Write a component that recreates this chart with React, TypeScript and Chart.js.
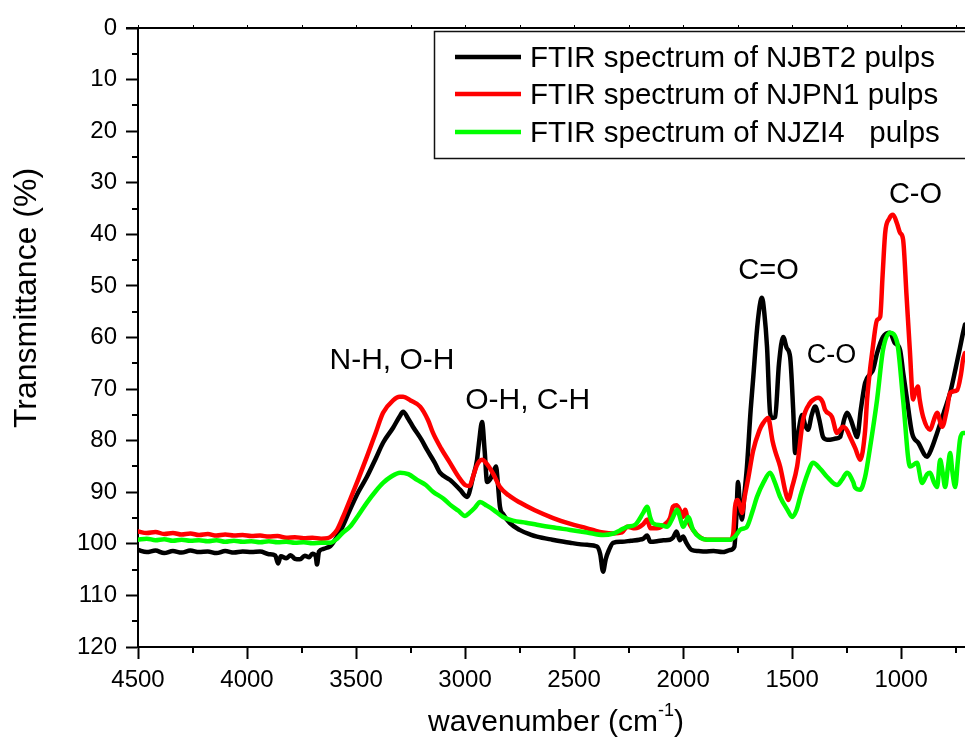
import React, { useEffect, useRef } from "react";
import { Chart, registerables } from "chart.js";

Chart.register(...registerables);

const FONT = '"Liberation Sans", Arial, Helvetica, sans-serif';

// Axis ticks
const xMajorTicks = [4500, 4000, 3500, 3000, 2500, 2000, 1500, 1000];
const xMinorTicks = [4250, 3750, 3250, 2750, 2250, 1750, 1250, 750];
const yMajorTicks = [0, 10, 20, 30, 40, 50, 60, 70, 80, 90, 100, 110, 120];
const yMinorTicks = [5, 15, 25, 35, 45, 55, 65, 75, 85, 95, 105, 115];

// Series names and colours
const seriesLabels = [
  "FTIR spectrum of NJBT2 pulps",
  "FTIR spectrum of NJPN1 pulps",
  "FTIR spectrum of NJZI4   pulps",
];
const seriesColors = ["#000000", "#ff0000", "#00ff00"];

// NJBT2 spectrum (wavenumber cm-1, transmittance %)
const njbt2Wavenumber = [
  4500, 4460, 4420, 4380, 4340, 4300, 4260, 4220, 4180, 4140, 4100, 4060, 4020, 3980, 3940, 3900,
  3870, 3858, 3845, 3820, 3800, 3780, 3757, 3735, 3715, 3700, 3685, 3679, 3670, 3650, 3630, 3619,
  3587, 3560, 3528, 3490, 3450, 3410, 3376, 3330, 3300, 3284, 3260, 3239, 3200, 3174, 3140, 3115,
  3069, 3023, 2991, 2963, 2945, 2935, 2922, 2910, 2899, 2885, 2870, 2858, 2850, 2840, 2826, 2794,
  2750, 2700, 2670, 2600, 2518, 2440, 2395, 2380, 2367, 2355, 2340, 2321, 2280, 2240, 2200, 2183,
  2165, 2150, 2120, 2090, 2060, 2046, 2030, 2015, 2000, 1985, 1960, 1930, 1900, 1860, 1820, 1784,
  1765, 1756, 1748, 1740, 1730, 1718, 1707, 1690, 1679, 1660, 1645, 1638, 1628, 1615, 1601, 1590,
  1578, 1560, 1541, 1525, 1509, 1495, 1486, 1470, 1454, 1440, 1427, 1410, 1394, 1375, 1358, 1340,
  1326, 1300, 1280, 1262, 1248, 1230, 1211, 1202, 1185, 1165, 1140, 1129, 1110, 1083, 1051, 1030,
  1005, 990, 973, 950, 920, 881, 860, 835, 800, 775, 750, 730, 716, 707,
];
const njbt2Transmittance = [
  101.2, 101.6, 101.3, 101.8, 101.4, 101.7, 101.3, 101.6, 101.5, 101.8, 101.4, 101.7, 101.5, 101.6, 101.5, 102.0,
  102.3, 103.8, 102.4, 102.8, 102.2, 102.9, 103.0, 102.3, 102.6, 101.9, 102.4, 104.0, 101.5, 101.0, 100.7, 100.5,
  98.6, 96.5, 93.4, 90.0, 87.0, 83.5, 80.4, 77.5, 75.3, 74.4, 75.8, 77.3, 79.8, 81.8, 84.2, 86.2,
  87.6, 89.5, 90.9, 87.0, 83.7, 80.0, 76.4, 82.0, 88.0, 87.5, 86.0, 85.0, 88.0, 92.8, 94.2, 96.0,
  97.3, 98.2, 98.6, 99.2, 99.8, 100.2, 100.5, 102.0, 105.4, 103.0, 101.2, 99.8, 99.6, 99.4, 99.2, 99.0,
  98.4, 99.6, 99.5, 99.3, 99.2, 98.8, 97.6, 99.3, 98.6, 99.8, 101.2, 101.4, 101.5, 101.4, 101.6, 101.2,
  100.6, 95.0, 88.0, 92.0, 95.3, 90.0, 85.0, 74.0, 68.2, 58.0, 53.0, 52.3, 55.0, 61.8, 74.6, 75.6,
  75.4, 65.0, 59.9, 62.0, 63.8, 74.0, 82.4, 78.0, 75.0, 77.0, 77.9, 75.0, 73.4, 76.0, 79.3, 79.8,
  79.8, 79.6, 79.3, 76.0, 74.6, 76.0, 78.5, 79.3, 74.0, 68.8, 67.0, 66.3, 63.0, 59.9, 59.1, 61.0,
  62.4, 67.0, 72.0, 78.5, 80.5, 83.1, 81.5, 78.5, 74.0, 70.7, 66.0, 62.0, 59.1, 57.5,
];

// NJPN1 spectrum
const njpn1Wavenumber = [
  4500, 4460, 4420, 4380, 4340, 4300, 4260, 4220, 4180, 4140, 4100, 4060, 4020, 3980, 3940, 3900,
  3860, 3820, 3780, 3740, 3700, 3660, 3630, 3610, 3587, 3560, 3528, 3490, 3450, 3410, 3376, 3330,
  3300, 3284, 3250, 3206, 3170, 3147, 3110, 3069, 3030, 3000, 2980, 2960, 2945, 2922, 2900, 2870,
  2840, 2800, 2748, 2680, 2596, 2520, 2440, 2400, 2367, 2321, 2280, 2257, 2220, 2183, 2165, 2150,
  2120, 2090, 2060, 2046, 2030, 2015, 2000, 1991, 1977, 1954, 1920, 1890, 1850, 1810, 1784, 1770,
  1762, 1750, 1740, 1730, 1718, 1700, 1679, 1650, 1633, 1610, 1590, 1578, 1555, 1530, 1518, 1500,
  1477, 1450, 1418, 1400, 1381, 1360, 1349, 1317, 1294, 1266, 1248, 1234, 1210, 1188, 1165, 1156,
  1130, 1110, 1096, 1085, 1073, 1055, 1037, 1018, 1005, 991, 975, 960, 945, 935, 923, 915,
  899, 867, 850, 835, 812, 790, 775, 743, 725, 716, 707,
];
const njpn1Transmittance = [
  97.6, 97.9, 97.7, 98.1, 97.9, 98.2, 98.0, 98.3, 98.1, 98.4, 98.2, 98.4, 98.3, 98.5, 98.4, 98.6,
  98.5, 98.8, 98.7, 98.9, 98.8, 99.0, 98.9, 98.4, 97.3, 94.8, 91.5, 87.5, 83.1, 78.5, 74.6, 72.2,
  71.5, 71.5, 72.2, 73.4, 76.0, 78.5, 81.5, 84.3, 87.0, 88.6, 88.8, 86.5, 84.7, 83.7, 84.5, 86.5,
  89.0, 90.6, 92.0, 93.5, 95.0, 96.1, 97.0, 97.5, 97.8, 98.0, 97.8, 96.7, 97.0, 96.2, 95.3, 97.0,
  97.0, 96.4, 95.0, 92.8, 92.5, 93.4, 94.8, 93.4, 95.5, 97.3, 98.8, 99.2, 99.2, 99.2, 99.2, 98.0,
  93.0, 91.5, 92.5, 94.0, 91.0, 87.0, 82.0, 78.0, 76.6, 75.6, 80.0, 82.0, 85.0, 90.0, 91.5, 89.0,
  85.0, 76.0, 72.7, 72.0, 71.7, 72.5, 74.0, 75.4, 78.5, 77.3, 78.0, 79.3, 81.5, 83.7, 78.0, 72.0,
  62.0, 56.6, 56.0, 48.0, 39.7, 37.0, 36.2, 38.0, 39.7, 41.0, 52.0, 62.4, 72.0, 70.5, 69.5, 72.0,
  75.4, 77.9, 76.0, 74.6, 77.3, 74.0, 70.7, 70.2, 67.0, 64.3, 63.0,
];

// NJZI4 spectrum
const njzi4Wavenumber = [
  4500, 4460, 4420, 4380, 4340, 4300, 4260, 4220, 4180, 4140, 4100, 4060, 4020, 3980, 3940, 3900,
  3860, 3820, 3780, 3740, 3700, 3660, 3619, 3587, 3560, 3528, 3490, 3450, 3410, 3376, 3340, 3298,
  3260, 3220, 3180, 3147, 3100, 3069, 3030, 3000, 2980, 2955, 2931, 2900, 2870, 2826, 2780, 2720,
  2670, 2600, 2518, 2440, 2367, 2320, 2290, 2257, 2220, 2183, 2165, 2150, 2138, 2100, 2073, 2046,
  2028, 2010, 2000, 1985, 1977, 1954, 1922, 1890, 1840, 1784, 1760, 1739, 1720, 1707, 1680, 1661,
  1630, 1601, 1580, 1555, 1520, 1500, 1480, 1463, 1430, 1404, 1370, 1340, 1294, 1270, 1248, 1220,
  1211, 1188, 1165, 1142, 1110, 1083, 1051, 1018, 991, 959, 927, 904, 881, 867, 850, 835,
  821, 810, 798, 785, 775, 765, 752, 740, 730, 716, 707,
];
const njzi4Transmittance = [
  99.2, 99.0, 99.3, 99.1, 99.4, 99.2, 99.4, 99.3, 99.5, 99.3, 99.6, 99.4, 99.6, 99.5, 99.7, 99.5,
  99.7, 99.6, 99.8, 99.7, 99.9, 99.8, 99.8, 99.0, 97.8, 96.7, 94.5, 92.0, 89.8, 88.2, 87.0, 86.2,
  86.5, 87.6, 88.6, 89.9, 91.2, 92.4, 93.6, 94.6, 94.0, 93.0, 91.9, 92.6, 93.4, 94.8, 95.5, 95.9,
  96.3, 96.8, 97.3, 97.8, 98.3, 98.0, 97.4, 96.7, 96.3, 94.0, 92.8, 95.0, 96.0, 96.4, 96.7, 94.8,
  93.4, 95.5, 96.7, 95.5, 94.8, 97.3, 98.8, 99.2, 99.2, 99.2, 98.5, 97.3, 97.0, 96.7, 93.5, 90.9,
  88.0, 86.2, 88.0, 90.9, 93.5, 94.8, 93.5, 90.9, 86.5, 84.3, 85.5, 87.0, 88.6, 87.5, 86.2, 88.0,
  89.1, 89.5, 87.0, 81.2, 72.0, 62.4, 59.1, 61.0, 72.0, 85.0, 84.3, 88.2, 86.5, 86.2, 88.0, 89.0,
  83.7, 86.0, 89.0, 85.0, 82.4, 86.0, 89.0, 84.0, 79.8, 78.5, 78.5,
];

// Band assignments, anchored at (wavenumber, transmittance) of their baseline centre
const bandLabels = ["N-H, O-H", "O-H, C-H", "C=O", "C-O", "C-O"];
const bandWavenumbers = [3335, 2713, 1608, 1319, 934];
const bandTransmittance = [66.1, 73.8, 48.6, 64.9, 33.9];
const bandFontSizes = [30, 30, 29, 27, 29];

const xTitle = "wavenumber (cm";
const xTitleSup = "-1";
const yTitle = "Transmittance (%)";

const toPoints = (wn: number[], t: number[]) => wn.map((w, i) => ({ x: w, y: t[i] }));

const decorPlugin = {
  id: "ftirDecor",
  afterDraw(chart: any) {
    const { ctx, chartArea: a, scales } = chart;
    const xs = scales.x;
    const ys = scales.y;
    ctx.save();

    // minor ticks + top frame line
    ctx.strokeStyle = "#000";
    ctx.lineWidth = 2;
    ctx.beginPath();
    yMinorTicks.forEach((v) => {
      const py = Math.round(ys.getPixelForValue(v));
      ctx.moveTo(a.left - 6, py);
      ctx.lineTo(a.left, py);
    });
    xMinorTicks.forEach((v) => {
      const px = Math.round(xs.getPixelForValue(v));
      ctx.moveTo(px, a.bottom);
      ctx.lineTo(px, a.bottom + 6);
    });
    ctx.moveTo(a.left - 12, Math.round(a.top));
    ctx.lineTo(a.right, Math.round(a.top));
    ctx.stroke();

    ctx.lineWidth = 1;
    ctx.beginPath();
    [...xMajorTicks, ...xMinorTicks].forEach((v) => {
      const px = Math.round(xs.getPixelForValue(v)) + 0.5;
      ctx.moveTo(px, a.top - 3);
      ctx.lineTo(px, a.top);
    });
    ctx.stroke();

    // legend
    const lx = 434;
    const ly = 31;
    ctx.fillStyle = "#fff";
    ctx.fillRect(lx, ly, 600, 127);
    ctx.strokeStyle = "#111";
    ctx.lineWidth = 1.5;
    ctx.strokeRect(lx + 0.5, ly + 0.5, 600, 127);
    const rowY = [57, 94, 132];
    ctx.font = `29.5px ${FONT}`;
    ctx.textAlign = "left";
    ctx.textBaseline = "alphabetic";
    seriesLabels.forEach((label, i) => {
      ctx.strokeStyle = seriesColors[i];
      ctx.lineWidth = 4.5;
      ctx.beginPath();
      ctx.moveTo(455, rowY[i]);
      ctx.lineTo(521, rowY[i]);
      ctx.stroke();
      ctx.fillStyle = "#000";
      ctx.fillText(label, 530, rowY[i] + 10);
    });

    // band labels
    ctx.fillStyle = "#000";
    ctx.textAlign = "center";
    bandLabels.forEach((label, i) => {
      ctx.font = `${bandFontSizes[i]}px ${FONT}`;
      ctx.fillText(label, xs.getPixelForValue(bandWavenumbers[i]), ys.getPixelForValue(bandTransmittance[i]));
    });

    // x title with superscript
    ctx.font = `30px ${FONT}`;
    const wMain = ctx.measureText(xTitle).width;
    const wClose = ctx.measureText(")").width;
    ctx.font = `18px ${FONT}`;
    const wSup = ctx.measureText(xTitleSup).width;
    const total = wMain + wSup + wClose;
    const x0 = 556 - total / 2;
    const baseY = 731;
    ctx.textAlign = "left";
    ctx.font = `30px ${FONT}`;
    ctx.fillText(xTitle, x0, baseY);
    ctx.font = `18px ${FONT}`;
    ctx.fillText(xTitleSup, x0 + wMain, baseY - 15);
    ctx.font = `30px ${FONT}`;
    ctx.fillText(")", x0 + wMain + wSup, baseY);

    // y title
    ctx.translate(36, 298);
    ctx.rotate(-Math.PI / 2);
    ctx.textAlign = "center";
    ctx.font = `32px ${FONT}`;
    ctx.fillText(yTitle, 0, 0);

    ctx.restore();
  },
};

export default function App() {
  const canvasRef = useRef<HTMLCanvasElement>(null);

  useEffect(() => {
    const canvas = canvasRef.current;
    if (!canvas) return;
    const tickFont = { family: FONT, size: 24 };
    const chart = new Chart(canvas, {
      type: "line",
      data: {
        datasets: [
          { label: seriesLabels[0], data: toPoints(njbt2Wavenumber, njbt2Transmittance), borderColor: seriesColors[0], order: 3 },
          { label: seriesLabels[1], data: toPoints(njpn1Wavenumber, njpn1Transmittance), borderColor: seriesColors[1], order: 2 },
          { label: seriesLabels[2], data: toPoints(njzi4Wavenumber, njzi4Transmittance), borderColor: seriesColors[2], order: 1 },
        ],
      },
      options: {
        responsive: false,
        animation: false,
        devicePixelRatio: 1,
        layout: { padding: { top: 28, right: 0, bottom: 0, left: 0 } },
        plugins: { legend: { display: false }, tooltip: { enabled: false } },
        elements: {
          point: { radius: 0 },
          line: {
            borderWidth: 4.5,
            cubicInterpolationMode: "monotone",
            fill: false,
            borderJoinStyle: "round",
            borderCapStyle: "round",
          },
        },
        scales: {
          x: {
            type: "linear",
            reverse: true,
            min: 707,
            max: 4500,
            afterBuildTicks: (s: any) => {
              s.ticks = xMajorTicks.map((v) => ({ value: v }));
            },
            afterFit: (s: any) => {
              s.height = 102;
            },
            ticks: { font: tickFont, color: "#000", padding: 7, maxRotation: 0, autoSkip: false, callback: (v: any) => String(v) },
            grid: { display: true, drawOnChartArea: false, drawTicks: true, tickLength: 12, tickWidth: 2, tickColor: "#000" },
            border: { display: true, color: "#000", width: 2 },
          },
          y: {
            type: "linear",
            reverse: true,
            min: 0,
            max: 120,
            afterBuildTicks: (s: any) => {
              s.ticks = yMajorTicks.map((v) => ({ value: v }));
            },
            afterFit: (s: any) => {
              s.width = 138;
            },
            ticks: { font: tickFont, color: "#000", padding: 9, autoSkip: false, callback: (v: any) => String(v) },
            grid: { display: true, drawOnChartArea: false, drawTicks: true, tickLength: 12, tickWidth: 2, tickColor: "#000" },
            border: { display: true, color: "#000", width: 2 },
          },
        },
      },
      plugins: [decorPlugin],
    } as any);
    return () => chart.destroy();
  }, []);

  return (
    <div style={{ position: "absolute", left: 0, top: 0, width: 965, height: 749, background: "#fff", overflow: "hidden" }}>
      <canvas ref={canvasRef} width={965} height={749} style={{ display: "block", width: 965, height: 749 }} />
    </div>
  );
}
